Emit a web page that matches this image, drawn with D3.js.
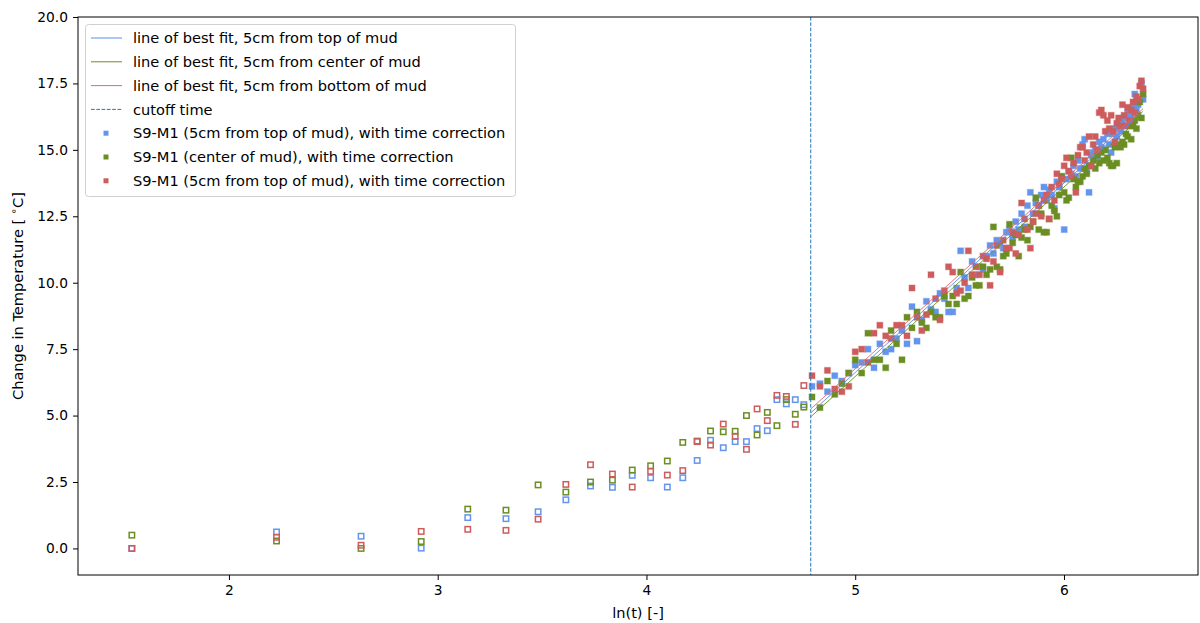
<!DOCTYPE html>
<html>
<head>
<meta charset="utf-8">
<script src="https://cdn.jsdelivr.net/npm/d3@7"></script>
<style>
  html, body { margin: 0; padding: 0; background: #fff; }
  svg { display: block; font-family: "DejaVu Sans", sans-serif; }
</style>
</head>
<body>
<svg id="chart" width="1200" height="623"></svg>
<script>
// ln(t) of the early readings (before the cutoff time), drawn as open squares
const lnTimeEarly = [1.535, 2.228, 2.633, 2.921, 3.144, 3.327, 3.481, 3.614, 3.732, 3.837,
  3.932, 4.020, 4.100, 4.174, 4.243, 4.307, 4.368, 4.425, 4.479, 4.530,
  4.579, 4.625, 4.670, 4.713, 4.754];
const topEarly = [0.0, 0.62, 0.46, 0.01, 1.16, 1.12, 1.38, 1.83, 2.35, 2.30,
  2.75, 2.66, 2.31, 2.66, 3.31, 4.07, 3.79, 4.02, 4.02, 4.51,
  4.43, 5.60, 5.44, 5.60, 5.41];
const centerEarly = [0.50, 0.28, 0.0, 0.26, 1.48, 1.44, 2.39, 2.12, 2.50, 2.57,
  2.95, 3.11, 3.29, 3.99, 4.04, 4.42, 4.39, 4.41, 5.00, 4.27,
  5.12, 4.62, 5.60, 5.05, 5.32];
const bottomEarly = [0.0, 0.42, 0.12, 0.64, 0.72, 0.68, 1.10, 2.41, 3.15, 2.80,
  2.31, 2.90, 2.76, 2.93, 4.02, 3.89, 4.68, 4.22, 3.73, 5.25,
  4.81, 5.76, 5.72, 4.67, 6.13];

// ln(t) of the readings after the cutoff time, drawn as filled squares
const lnTimeLate = [4.793, 4.831, 4.867, 4.902, 4.936, 4.969, 5.000, 5.031, 5.061, 5.090,
  5.118, 5.146, 5.172, 5.198, 5.224, 5.248, 5.272, 5.296, 5.319, 5.341,
  5.363, 5.385, 5.406, 5.427, 5.447, 5.467, 5.486, 5.505, 5.524, 5.542,
  5.560, 5.578, 5.595, 5.612, 5.629, 5.646, 5.662, 5.678, 5.694, 5.709,
  5.724, 5.739, 5.754, 5.769, 5.783, 5.797, 5.811, 5.825, 5.839, 5.852,
  5.865, 5.879, 5.891, 5.904, 5.917, 5.929, 5.941, 5.954, 5.966, 5.977,
  5.989, 6.001, 6.012, 6.023, 6.035, 6.046, 6.057, 6.067, 6.078, 6.089,
  6.099, 6.109, 6.120, 6.130, 6.140, 6.150, 6.160, 6.169, 6.179, 6.189,
  6.198, 6.208, 6.217, 6.226, 6.235, 6.244, 6.253, 6.262, 6.271, 6.280,
  6.288, 6.297, 6.305, 6.314, 6.322, 6.331, 6.339, 6.347, 6.355, 6.363,
  6.371, 6.379];
const topLate = [6.1, 6.2, 5.9, 6.5, 6.3, 6.6, 6.9, 7.0, 7.5, 6.8,
  7.7, 7.4, 7.5, 7.9, 8.2, 7.7, 9.1, 7.8, 8.6, 9.3,
  9.0, 8.9, 9.6, 9.4, 8.9, 8.9, 9.8, 11.2, 10.2, 9.8,
  10.8, 10.3, 10.6, 10.5, 11.0, 11.4, 11.1, 11.6, 11.5, 11.3,
  11.9, 12.0, 11.7, 12.3, 12.0, 12.6, 12.1, 12.9, 13.4, 12.6,
  13.0, 12.9, 13.3, 13.6, 13.1, 13.5, 13.3, 12.8, 13.8, 13.6,
  14.0, 12.0, 13.9, 14.2, 14.1, 14.4, 14.0, 14.6, 14.3, 15.2,
  15.4, 14.2, 13.4, 14.8, 14.9, 15.0, 14.7, 15.3, 15.1, 15.4,
  15.0, 15.6, 15.2, 14.9, 15.6, 15.8, 15.5, 16.0, 15.7, 16.1,
  15.9, 16.2, 16.4, 16.0, 16.3, 16.6, 17.1, 16.5, 16.7, 16.9,
  17.5, 16.9];
const centerLate = [5.7, 5.3, 6.3, 5.8, 6.2, 6.6, 7.1, 6.6, 8.1, 7.1,
  7.1, 6.8, 8.2, 7.7, 7.1, 8.7, 8.3, 8.9, 8.5, 8.3,
  8.9, 8.7, 8.7, 9.5, 9.2, 9.5, 9.2, 10.4, 9.4, 9.5,
  10.2, 9.9, 9.9, 10.6, 10.3, 10.5, 12.1, 10.6, 10.5, 11.0,
  11.1, 12.2, 11.5, 11.8, 11.0, 11.7, 12.0, 11.6, 12.1, 12.3,
  13.2, 12.0, 12.6, 11.9, 11.9, 12.4, 12.9, 12.7, 12.5, 13.3,
  14.0, 13.4, 13.1, 13.2, 14.7, 13.9, 13.6, 13.8, 13.8, 14.0,
  14.3, 14.1, 14.4, 14.4, 14.6, 14.3, 14.8, 14.5, 14.9, 14.6,
  15.0, 14.7, 14.5, 14.4, 14.4, 15.1, 14.5, 15.2, 15.1, 15.3,
  15.2, 15.6, 15.5, 15.9, 15.4, 15.9, 16.1, 15.8, 16.3, 16.8,
  16.2, 17.1];
const bottomLate = [6.5, 6.1, 6.7, 6.0, 5.9, 6.1, 7.4, 7.5, 7.0, 8.1,
  8.4, 8.0, 7.9, 8.4, 8.4, 8.0, 9.8, 8.7, 8.2, 8.8,
  10.3, 9.4, 8.6, 9.7, 10.6, 10.4, 9.6, 9.7, 10.0, 11.2,
  10.3, 10.6, 10.3, 11.0, 10.9, 9.9, 10.8, 11.4, 10.4, 11.6,
  11.3, 11.3, 11.9, 11.1, 11.8, 13.0, 12.4, 12.0, 11.3, 12.3,
  12.6, 12.9, 12.5, 13.1, 13.3, 12.4, 13.6, 13.1, 14.1, 13.7,
  13.9, 14.4, 14.7, 14.2, 14.0, 14.5, 13.4, 14.8, 15.1, 15.1,
  14.6, 14.9, 15.5, 14.4, 15.2, 15.5, 15.0, 16.4, 16.5, 16.3,
  15.7, 16.1, 15.8, 16.3, 15.7, 15.3, 16.0, 16.2, 15.9, 16.7,
  16.3, 15.9, 16.6, 16.1, 16.5, 16.8, 16.4, 17.0, 16.9, 17.4,
  17.6, 17.3];

// linear fits y = slope * ln(t) + intercept, from the cutoff time onward
const fitSlope = [7.13, 7.13, 7.10];
const fitIntercept = [-29.03, -29.18, -28.74];
const cutoffLnTime = 4.787;

const seriesColors = ["#6495ED", "#6B8E23", "#CD5C5C"];
const fitColors = ["#5b8def", "#6B8E23", "#df6b6b"];
const fitLabels = ["line of best fit, 5cm from top of mud",
  "line of best fit, 5cm from center of mud",
  "line of best fit, 5cm from bottom of mud"];
const cutoffLabel = "cutoff time";
const scatterLabels = ["S9-M1 (5cm from top of mud), with time correction",
  "S9-M1 (center of mud), with time correction",
  "S9-M1 (5cm from top of mud), with time correction"];

const xTicks = [2, 3, 4, 5, 6];
const yTicks = [0, 2.5, 5, 7.5, 10, 12.5, 15, 17.5, 20];
const xDomain = [1.277, 6.642];
const yDomain = [-1.0, 20.0];

const svg = d3.select("#chart");
const plot = { left: 78, right: 1198, top: 17, bottom: 575 };

const x = d3.scaleLinear().domain(xDomain).range([plot.left, plot.right]);
const y = d3.scaleLinear().domain(yDomain).range([plot.bottom, plot.top]);

const earlySeries = [topEarly, centerEarly, bottomEarly];
const lateSeries = [topLate, centerLate, bottomLate];

svg.append("clipPath").attr("id", "plotClip")
  .append("rect")
  .attr("x", plot.left).attr("y", plot.top)
  .attr("width", plot.right - plot.left).attr("height", plot.bottom - plot.top);

const body = svg.append("g").attr("clip-path", "url(#plotClip)");

// open squares: readings before the cutoff
const openSize = 5.4;
earlySeries.forEach((vals, i) => {
  body.append("g")
    .selectAll("rect")
    .data(vals.map((v, j) => [lnTimeEarly[j], v]))
    .join("rect")
    .attr("x", d => x(d[0]) - openSize / 2)
    .attr("y", d => y(d[1]) - openSize / 2)
    .attr("width", openSize).attr("height", openSize)
    .attr("fill", "none")
    .attr("stroke", seriesColors[i])
    .attr("stroke-width", 1.5);
});

// filled squares: readings after the cutoff
const fillSize = 6;
lateSeries.forEach((vals, i) => {
  body.append("g")
    .selectAll("rect")
    .data(vals.map((v, j) => [lnTimeLate[j], v]))
    .join("rect")
    .attr("x", d => x(d[0]) - fillSize / 2)
    .attr("y", d => y(d[1]) - fillSize / 2)
    .attr("width", fillSize).attr("height", fillSize)
    .attr("fill", seriesColors[i])
    .attr("stroke", seriesColors[i])
    .attr("stroke-opacity", 0.35)
    .attr("stroke-width", 1.2);
});

// best-fit lines
const lastLn = lnTimeLate[lnTimeLate.length - 1];
const line = d3.line().x(d => x(d[0])).y(d => y(d[1]));
fitSlope.forEach((m, i) => {
  const pts = [cutoffLnTime, lastLn].map(t => [t, m * t + fitIntercept[i]]);
  body.append("path")
    .attr("d", line(pts))
    .attr("fill", "none")
    .attr("stroke", fitColors[i])
    .attr("stroke-width", 0.9);
});

// cutoff marker
body.append("line")
  .attr("x1", x(cutoffLnTime)).attr("x2", x(cutoffLnTime))
  .attr("y1", plot.top).attr("y2", plot.bottom)
  .attr("stroke", "#1f77b4")
  .attr("stroke-width", 1)
  .attr("stroke-dasharray", "3.7,1.6");

// axes
const xAxis = d3.axisBottom(x).tickValues(xTicks).tickSize(5).tickPadding(5)
  .tickFormat(d3.format("d"));
const yAxis = d3.axisLeft(y).tickValues(yTicks).tickSize(5).tickPadding(5)
  .tickFormat(d3.format(".1f"));

const gx = svg.append("g").attr("transform", `translate(0,${plot.bottom})`).call(xAxis);
const gy = svg.append("g").attr("transform", `translate(${plot.left},0)`).call(yAxis);
[gx, gy].forEach(g => {
  g.select(".domain").remove();
  g.selectAll("text").attr("font-size", 13.8).attr("fill", "#000")
    .attr("font-family", "DejaVu Sans");
  g.selectAll("line").attr("stroke", "#000").attr("stroke-width", 1);
});

// frame
svg.append("rect")
  .attr("x", plot.left).attr("y", plot.top)
  .attr("width", plot.right - plot.left).attr("height", plot.bottom - plot.top)
  .attr("fill", "none").attr("stroke", "#000").attr("stroke-width", 1);

// axis titles
svg.append("text")
  .attr("x", (plot.left + plot.right) / 2).attr("y", 618)
  .attr("text-anchor", "middle").attr("font-size", 14.6)
  .text("ln(t) [-]");

const yTitle = svg.append("text")
  .attr("transform", `translate(23,${(plot.top + plot.bottom) / 2}) rotate(-90)`)
  .attr("text-anchor", "middle").attr("font-size", 14.6);
yTitle.append("tspan").text("Change in Temperature [ ");
yTitle.append("tspan").attr("font-size", 10).attr("dy", -6).text("\u2218");
yTitle.append("tspan").attr("dy", 6).text("C]");

// legend
const legend = svg.append("g");
legend.append("rect")
  .attr("x", 85.5).attr("y", 24.5).attr("width", 430).attr("height", 172)
  .attr("rx", 3).attr("fill", "#fff").attr("fill-opacity", 0.85)
  .attr("stroke", "#d0d0d0").attr("stroke-width", 1);

const rowY = i => 38 + i * 23.8;
const legendItems = [
  ...fitLabels.map((t, i) => ({ kind: "line", color: fitColors[i], text: t })),
  { kind: "dash", color: "#1f77b4", text: cutoffLabel },
  ...scatterLabels.map((t, i) => ({ kind: "square", color: seriesColors[i], text: t }))
];
legendItems.forEach((item, i) => {
  const cy = rowY(i);
  if (item.kind === "line" || item.kind === "dash") {
    legend.append("line")
      .attr("x1", 91).attr("x2", 122).attr("y1", cy).attr("y2", cy)
      .attr("stroke", item.color).attr("stroke-width", 1)
      .attr("stroke-dasharray", item.kind === "dash" ? "3.7,1.6" : null);
  } else {
    legend.append("rect")
      .attr("x", 106 - 2.5).attr("y", cy - 2.5).attr("width", 5).attr("height", 5)
      .attr("fill", item.color);
  }
  legend.append("text")
    .attr("x", 133).attr("y", cy).attr("dy", "0.35em")
    .attr("font-size", 14.6).attr("fill", "#000")
    .text(item.text);
});
</script>
</body>
</html>
